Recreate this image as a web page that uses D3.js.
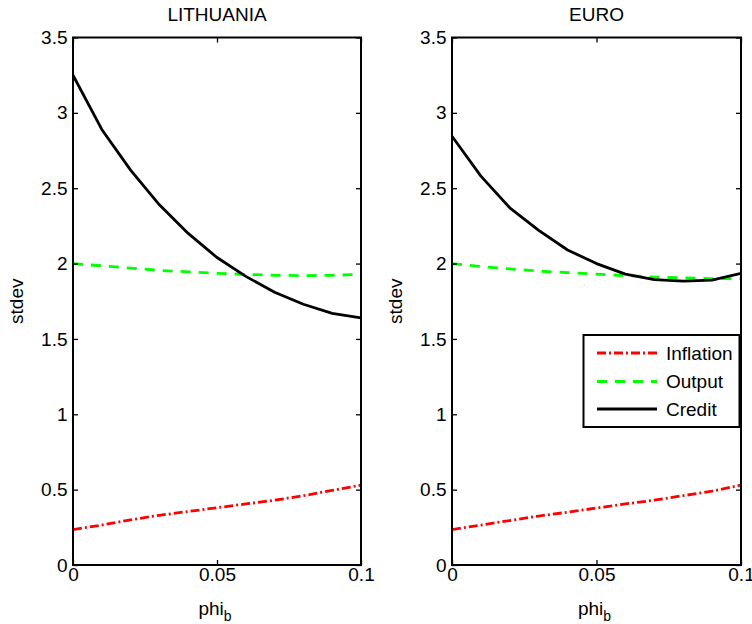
<!DOCTYPE html>
<html>
<head>
<meta charset="utf-8">
<script src="https://cdn.jsdelivr.net/npm/d3@7"></script>
<style>
  body { margin: 0; background: #fff; }
  text { font-family: "Liberation Sans", Arial, Helvetica, sans-serif; fill: #000; }
</style>
</head>
<body>
<svg id="chart" width="752" height="624"></svg>
<script>
// Policy parameter grid
const phiB = [0, 0.01, 0.02, 0.03, 0.04, 0.05, 0.06, 0.07, 0.08, 0.09, 0.1];

// Standard deviations, Lithuania
const ltInflation = [0.235, 0.265, 0.300, 0.330, 0.355, 0.380, 0.405, 0.430, 0.460, 0.495, 0.530];
const ltOutput    = [2.000, 1.985, 1.970, 1.955, 1.945, 1.935, 1.928, 1.922, 1.920, 1.922, 1.928];
const ltCredit    = [3.250, 2.890, 2.620, 2.390, 2.200, 2.040, 1.915, 1.810, 1.730, 1.670, 1.640];

// Standard deviations, euro area
const euInflation = [0.235, 0.265, 0.295, 0.325, 0.350, 0.378, 0.405, 0.430, 0.460, 0.490, 0.530];
const euOutput    = [2.000, 1.980, 1.965, 1.950, 1.940, 1.930, 1.920, 1.910, 1.905, 1.900, 1.900];
const euCredit    = [2.845, 2.580, 2.370, 2.220, 2.090, 2.000, 1.930, 1.893, 1.883, 1.890, 1.935];

const panelTitles = ["LITHUANIA", "EURO"];
const seriesNames = ["Inflation", "Output", "Credit"];
const xTickValues = [0, 0.05, 0.1];
const xTickLabels = ["0", "0.05", "0.1"];
const yTickValues = [0, 0.5, 1, 1.5, 2, 2.5, 3, 3.5];
const yTickLabels = ["0", "0.5", "1", "1.5", "2", "2.5", "3", "3.5"];

const seriesStyle = {
  Inflation: { color: "#ff0000", dash: "9,3,2,3" },
  Output:    { color: "#00ff00", dash: "10,8" },
  Credit:    { color: "#000000", dash: null }
};

const panels = [
  { title: panelTitles[0], left: 73,  right: 361, data: [ltInflation, ltOutput, ltCredit], legend: false },
  { title: panelTitles[1], left: 452, right: 741, data: [euInflation, euOutput, euCredit], legend: true }
];

const plotTop = 37.5, plotBottom = 565;
const fontSize = 19;
const svg = d3.select("#chart");

panels.forEach((p, pi) => {
  const x = d3.scaleLinear().domain([0, 0.1]).range([p.left, p.right]);
  const y = d3.scaleLinear().domain([0, 3.5]).range([plotBottom, plotTop]);
  const g = svg.append("g");

  // Clip series to the axes box
  const clipId = "clip-" + pi;
  g.append("clipPath").attr("id", clipId)
    .append("rect").attr("x", p.left).attr("y", plotTop)
    .attr("width", p.right - p.left).attr("height", plotBottom - plotTop);

  const line = d3.line().x((d, i) => x(phiB[i])).y(d => y(d));

  const series = g.append("g").attr("clip-path", `url(#${clipId})`);
  p.data.forEach((vals, k) => {
    const st = seriesStyle[seriesNames[k]];
    series.append("path")
      .datum(vals)
      .attr("d", line)
      .attr("fill", "none")
      .attr("stroke", st.color)
      .attr("stroke-width", 2.8)
      .attr("stroke-linejoin", "round")
      .attr("stroke-dasharray", st.dash);
  });

  // Axes with inward ticks on all four sides
  const styleAxis = sel => {
    sel.select(".domain").remove();
    sel.selectAll(".tick line").attr("stroke", "#000").attr("stroke-width", 1.3);
    sel.selectAll("text").attr("font-size", fontSize).attr("font-family", null);
  };

  g.append("g").attr("transform", `translate(0,${plotBottom})`)
    .call(d3.axisBottom(x).tickValues(xTickValues)
      .tickFormat((d, i) => xTickLabels[i]).tickSize(-5).tickPadding(2.5))
    .call(styleAxis);

  g.append("g").attr("transform", `translate(0,${plotTop})`)
    .call(d3.axisTop(x).tickValues(xTickValues).tickFormat("").tickSize(-5))
    .call(styleAxis);

  g.append("g").attr("transform", `translate(${p.left},0)`)
    .call(d3.axisLeft(y).tickValues(yTickValues)
      .tickFormat((d, i) => yTickLabels[i]).tickSize(-5).tickPadding(5.5))
    .call(styleAxis);

  g.append("g").attr("transform", `translate(${p.right},0)`)
    .call(d3.axisRight(y).tickValues(yTickValues).tickFormat("").tickSize(-5))
    .call(styleAxis);

  // Axes box
  g.append("rect")
    .attr("x", p.left).attr("y", plotTop)
    .attr("width", p.right - p.left).attr("height", plotBottom - plotTop)
    .attr("fill", "none").attr("stroke", "#000").attr("stroke-width", 2);

  // Title
  const cx = (p.left + p.right) / 2;
  g.append("text").attr("x", cx).attr("y", 21)
    .attr("text-anchor", "middle").attr("font-size", fontSize).text(p.title);

  // x label with subscript
  const xl = g.append("text").attr("x", cx - 2).attr("y", 615)
    .attr("text-anchor", "middle").attr("font-size", fontSize);
  xl.append("tspan").text("phi");
  xl.append("tspan").attr("dy", 6).attr("font-size", 14).text("b");

  // y label
  g.append("text")
    .attr("transform", `translate(${p.left - 50},${(plotTop + plotBottom) / 2}) rotate(-90)`)
    .attr("text-anchor", "middle").attr("font-size", fontSize).text("stdev");

  // Legend
  if (p.legend) {
    const lg = g.append("g");
    const bx = 583.5, by = 335, bw = 156, bh = 92;
    lg.append("rect").attr("x", bx).attr("y", by).attr("width", bw).attr("height", bh)
      .attr("fill", "#fff").attr("stroke", "#000").attr("stroke-width", 2);
    const rowY = [353, 381.5, 409];
    seriesNames.forEach((name, k) => {
      const st = seriesStyle[name];
      lg.append("line")
        .attr("x1", 597).attr("x2", 657).attr("y1", rowY[k]).attr("y2", rowY[k])
        .attr("stroke", st.color).attr("stroke-width", 2.8)
        .attr("stroke-dasharray", st.dash);
      lg.append("text").attr("x", 666).attr("y", rowY[k]).attr("dy", "0.35em")
        .attr("font-size", fontSize).text(name);
    });
  }
});
</script>
</body>
</html>
